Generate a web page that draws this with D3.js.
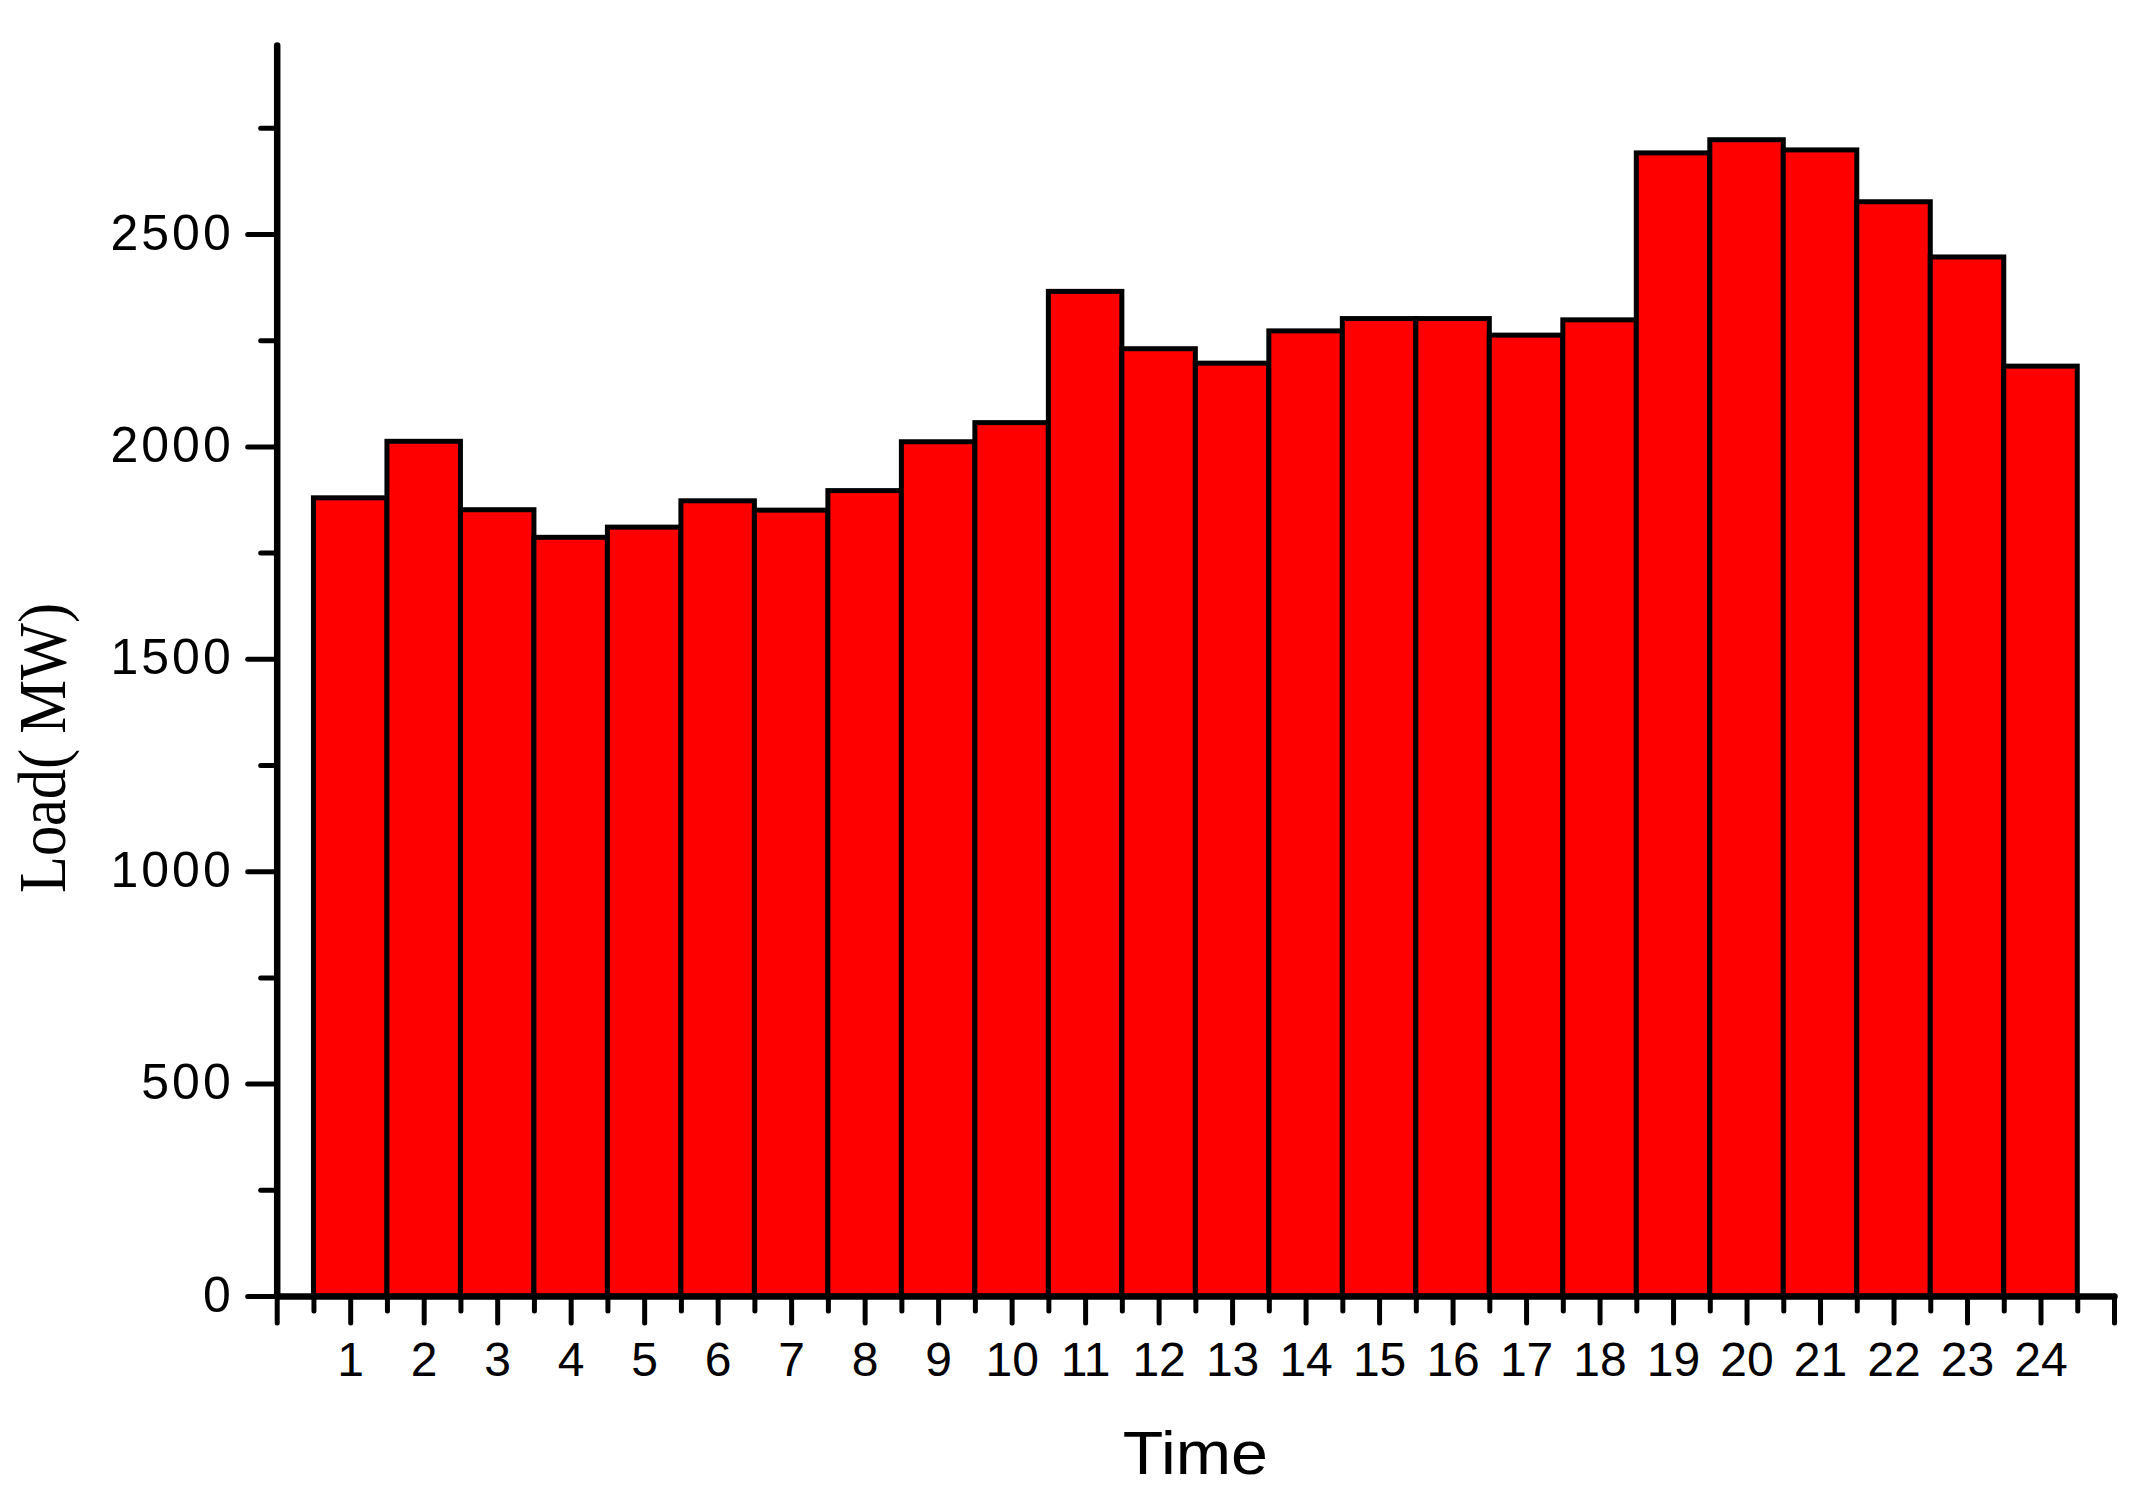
<!DOCTYPE html>
<html>
<head>
<meta charset="utf-8">
<script src="https://cdn.jsdelivr.net/npm/d3@7"></script>
<style>
  body { margin: 0; background: #fff; }
  svg { display: block; }
</style>
</head>
<body>
<div id="chart"></div>
<script>
// data
var hours = d3.range(1, 25);
var load = [1879, 2012, 1851, 1786, 1810, 1872, 1850, 1896, 2011, 2056, 2365, 2230,
            2196, 2272, 2301, 2301, 2262, 2298, 2691, 2722, 2698, 2576, 2446, 2189];
var yMajorTicks = [0, 500, 1000, 1500, 2000, 2500];
var yMinorTicks = [250, 750, 1250, 1750, 2250, 2750];

var W = 2147, H = 1506;

var svg = d3.select("#chart")
  .append("svg")
  .attr("width", W)
  .attr("height", H);

// scales
var x = d3.scaleLinear()
  .domain([0, 25])
  .range([276.7, 2114]);

var y = d3.scaleLinear()
  .domain([0, 2945])
  .range([1296, 45]);

// bars
svg.append("g")
  .selectAll("rect")
  .data(load)
  .enter()
  .append("rect")
    .attr("x", function(d, i) { return x(hours[i] - 0.5); })
    .attr("y", function(d) { return y(d); })
    .attr("width", function(d, i) { return x(hours[i] + 0.5) - x(hours[i] - 0.5); })
    .attr("height", function(d) { return y(0) - y(d); })
    .style("fill", "#ff0000")
    .style("stroke", "#000")
    .style("stroke-width", 5);

// y axis: minor ticks first, then major with labels
svg.append("g")
  .attr("transform", "translate(" + x(0) + ",0)")
  .call(d3.axisLeft(y).tickValues(yMinorTicks).tickSize(16).tickFormat(""))
  .call(function(g) { g.select(".domain").remove(); })
  .selectAll("line").style("stroke-width", 5).style("stroke-linecap", "round");

var yAxis = svg.append("g")
  .attr("transform", "translate(" + x(0) + ",0)")
  .call(d3.axisLeft(y).tickValues(yMajorTicks).tickSize(29).tickSizeOuter(0).tickPadding(14)
    .tickFormat(d3.format("d")));
yAxis.select(".domain").style("stroke-width", 6.5).style("stroke-linecap", "round");
yAxis.selectAll("line").style("stroke-width", 5).style("stroke-linecap", "round");
yAxis.selectAll("text")
  .attr("dy", "0.30em")
  .style("font-family", "'Liberation Sans', Arial, sans-serif")
  .style("font-size", "50px")
  .style("letter-spacing", "3px")
  .style("fill", "#000");

// x axis: minor ticks at bar edges, major at hour centres
svg.append("g")
  .attr("transform", "translate(0," + y(0) + ")")
  .call(d3.axisBottom(x).tickValues(d3.range(0.5, 25, 1)).tickSize(15).tickFormat(""))
  .call(function(g) { g.select(".domain").remove(); })
  .selectAll("line").style("stroke-width", 5).style("stroke-linecap", "round");

var xAxis = svg.append("g")
  .attr("transform", "translate(0," + y(0) + ")")
  .call(d3.axisBottom(x).tickValues(d3.range(0, 26)).tickSize(27).tickSizeOuter(0).tickPadding(19)
    .tickFormat(function(d) { return (d >= 1 && d <= 24) ? d : ""; }));
xAxis.select(".domain").style("stroke-width", 6.5).style("stroke-linecap", "round");
xAxis.selectAll("line").style("stroke-width", 5).style("stroke-linecap", "round");
xAxis.selectAll("text")
  .style("font-family", "'Liberation Sans', Arial, sans-serif")
  .style("font-size", "48px")
  .style("fill", "#000");

// axis titles
svg.append("text")
  .attr("x", (x(0) + x(25)) / 2)
  .attr("y", 1474)
  .attr("text-anchor", "middle")
  .attr("textLength", 145)
  .attr("lengthAdjust", "spacingAndGlyphs")
  .style("font-family", "'Liberation Sans', Arial, sans-serif")
  .style("font-size", "61px")
  .text("Time");

svg.append("text")
  .attr("transform", "translate(65,748) rotate(-90)")
  .attr("text-anchor", "middle")
  .attr("textLength", 290)
  .attr("lengthAdjust", "spacingAndGlyphs")
  .style("font-family", "'Liberation Serif', 'Times New Roman', serif")
  .style("font-size", "68px")
  .text("Load( MW)");
</script>
</body>
</html>
